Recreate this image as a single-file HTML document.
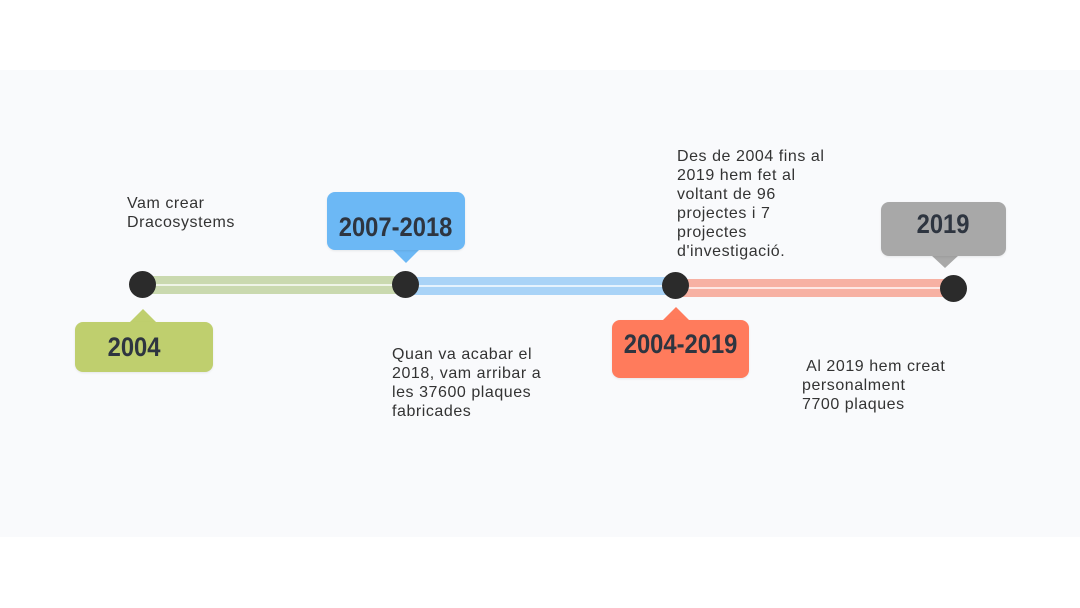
<!DOCTYPE html>
<html><head><meta charset="utf-8"><style>
body{margin:0;width:1080px;height:608px;background:#fff;position:relative;overflow:hidden;font-family:"Liberation Sans",sans-serif}
.a{position:absolute}
.band{left:0;top:70px;width:1080px;height:467px;background:#f9fafc}
.seg{height:18px;border-radius:2px}
.seg::after{content:"";position:absolute;left:0;right:0;top:8px;height:2px;background:rgba(255,255,255,.7)}
.dot{width:27px;height:27px;border-radius:50%;background:#2b2b2b}
.box{border-radius:8px;color:#2e3540;font-weight:bold;font-size:27px;display:flex;align-items:center;justify-content:center;box-shadow:0 1px 2px rgba(0,0,0,.08)}
.box span{display:inline-block;transform:scaleX(.88)}
.tri{width:0;height:0;border-left:14px solid transparent;border-right:14px solid transparent}
.t{font-size:16px;letter-spacing:0.55px;line-height:19px;color:#333;white-space:pre}
</style></head><body>
<div class="a band"></div>
<div class="a seg" style="left:143px;top:276px;width:263px;background:#cad9af"></div>
<div class="a seg" style="left:406px;top:277px;width:270px;background:#a9d3f7"></div>
<div class="a seg" style="left:676px;top:279px;width:277px;background:#f7b1a3"></div>
<div class="a dot" style="left:129px;top:271px"></div>
<div class="a dot" style="left:392px;top:271px"></div>
<div class="a dot" style="left:662px;top:272px"></div>
<div class="a dot" style="left:940px;top:275px"></div>

<div class="a tri" style="left:129px;top:309px;border-bottom:14px solid #bfcf6e"></div>
<div class="a box" style="left:75px;top:322px;width:138px;height:50px;background:#bfcf6e;padding-right:20px;box-sizing:border-box"><span>2004</span></div>

<div class="a tri" style="left:392px;top:249px;border-top:14px solid #6cb8f5"></div>
<div class="a box" style="left:327px;top:192px;width:138px;height:58px;background:#6cb8f5;padding-top:12px;box-sizing:border-box"><span>2007-2018</span></div>

<div class="a tri" style="left:662px;top:307px;border-bottom:14px solid #ff7b5c"></div>
<div class="a box" style="left:612px;top:320px;width:137px;height:58px;background:#ff7b5c;padding-bottom:10px;box-sizing:border-box"><span>2004-2019</span></div>

<div class="a tri" style="left:931px;top:255px;border-top:13px solid #a8a8a8"></div>
<div class="a box" style="left:881px;top:202px;width:125px;height:54px;background:#a8a8a8;padding-bottom:10px;box-sizing:border-box"><span>2019</span></div>

<div class="a t" style="left:127px;top:194px">Vam crear
Dracosystems</div>
<div class="a t" style="left:392px;top:345px">Quan va acabar el
2018, vam arribar a
les 37600 plaques
fabricades</div>
<div class="a t" style="left:677px;top:147px">Des de 2004 fins al
2019 hem fet al
voltant de 96
projectes i 7
projectes
d'investigació.</div>
<div class="a t" style="left:802px;top:357px"> Al 2019 hem creat
personalment
7700 plaques</div>
</body></html>
